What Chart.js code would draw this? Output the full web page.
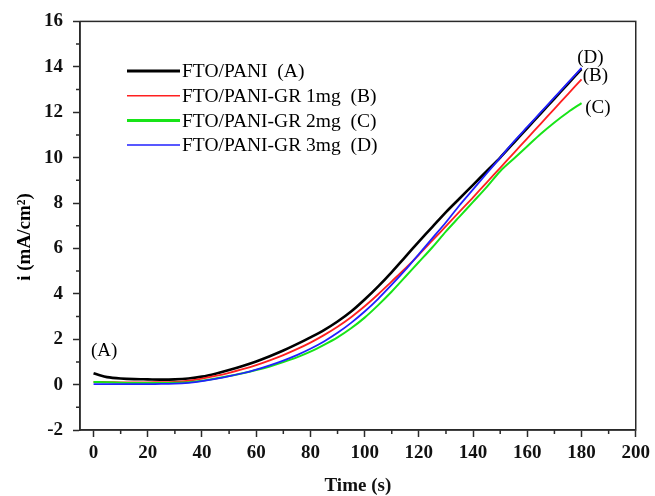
<!DOCTYPE html>
<html>
<head>
<meta charset="utf-8">
<script src="https://cdn.jsdelivr.net/npm/chart.js@4.4.1/dist/chart.umd.min.js"></script>
<style>
  html, body { margin: 0; padding: 0; background: #fff; }
  #wrap { width: 655px; height: 496px; }
</style>
</head>
<body>
<div id="wrap"><canvas id="iv"></canvas></div>
<script>
const times = [0, 2, 5, 10, 15, 20, 25, 30, 35, 40, 45, 50, 55, 60, 65, 70, 75, 80, 85, 90,
  95, 100, 105, 110, 115, 120, 125, 130, 135, 140, 145, 150, 155, 160, 165, 170, 175, 180];

const seriesA = [0.50, 0.42, 0.33, 0.27, 0.24, 0.23, 0.22, 0.23, 0.27, 0.35, 0.48, 0.64, 0.82, 1.02, 1.25, 1.50, 1.78, 2.08, 2.40, 2.78,
  3.22, 3.75, 4.33, 4.96, 5.63, 6.30, 6.95, 7.60, 8.20, 8.80, 9.40, 10.00, 10.65, 11.30, 11.95, 12.60, 13.25, 13.90];
const seriesB = [0.12, 0.12, 0.11, 0.10, 0.10, 0.10, 0.11, 0.12, 0.17, 0.26, 0.38, 0.52, 0.68, 0.86, 1.07, 1.30, 1.56, 1.85, 2.18, 2.55,
  2.97, 3.45, 3.98, 4.55, 5.12, 5.72, 6.35, 6.98, 7.62, 8.25, 8.90, 9.55, 10.20, 10.85, 11.50, 12.15, 12.80, 13.45];
const seriesC = [0.12, 0.11, 0.10, 0.08, 0.07, 0.07, 0.07, 0.08, 0.10, 0.17, 0.27, 0.38, 0.50, 0.64, 0.80, 0.99, 1.20, 1.45, 1.75, 2.08,
  2.48, 2.95, 3.50, 4.10, 4.75, 5.40, 6.05, 6.75, 7.40, 8.05, 8.70, 9.40, 9.95, 10.50, 11.05, 11.55, 12.00, 12.40];
const seriesD = [0.02, 0.02, 0.02, 0.02, 0.02, 0.02, 0.03, 0.04, 0.08, 0.15, 0.25, 0.37, 0.50, 0.66, 0.85, 1.06, 1.30, 1.58, 1.90, 2.28,
  2.72, 3.22, 3.78, 4.40, 5.05, 5.75, 6.45, 7.15, 7.90, 8.60, 9.30, 10.00, 10.70, 11.35, 12.00, 12.65, 13.30, 13.95];

const legendLabels = ["FTO/PANI  (A)", "FTO/PANI-GR 1mg  (B)", "FTO/PANI-GR 2mg  (C)", "FTO/PANI-GR 3mg  (D)"];
const colors = ["#000000", "#ff2020", "#18e418", "#2020ff"];
const widths = [2.6, 1.8, 2, 1.8];
const keyWidths = [3, 1.5, 3, 1.5];

const xTicks = [0, 20, 40, 60, 80, 100, 120, 140, 160, 180, 200];
const yTicks = [-2, 0, 2, 4, 6, 8, 10, 12, 14, 16];

// curve labels, in data units
const tagText = ["(A)", "(D)", "(B)", "(C)"];
const tagT = [3.9, 183.3, 185.1, 186.0];
const tagI = [1.5, 14.4, 13.6, 12.2];

const serif = "'Liberation Serif', 'Times New Roman', serif";
const axisColor = "#2a2a2a";

function pts(ys) {
  return times.map((t, k) => ({ x: t, y: ys[k] }));
}

const extras = {
  id: "extras",
  afterDraw(chart) {
    const ctx = chart.ctx;
    const a = chart.chartArea;
    const xs = chart.scales.x, ys = chart.scales.y;
    ctx.save();
    // frame
    ctx.strokeStyle = axisColor;
    ctx.lineWidth = 1.5;
    ctx.strokeRect(a.left, a.top, a.right - a.left, a.bottom - a.top);
    // minor ticks
    ctx.beginPath();
    for (let v = 10; v < 200; v += 20) {
      const px = xs.getPixelForValue(v);
      ctx.moveTo(px, a.bottom);
      ctx.lineTo(px, a.bottom + 4);
    }
    for (let v = -1; v < 16; v += 2) {
      const py = ys.getPixelForValue(v);
      ctx.moveTo(a.left, py);
      ctx.lineTo(a.left - 4, py);
    }
    ctx.stroke();

    // legend
    ctx.font = "19.5px " + serif;
    ctx.textBaseline = "middle";
    ctx.fillStyle = "#000";
    legendLabels.forEach((lab, k) => {
      const y = 71 + k * 24.7;
      ctx.strokeStyle = colors[k];
      ctx.lineWidth = keyWidths[k];
      ctx.beginPath();
      ctx.moveTo(127, y);
      ctx.lineTo(180, y);
      ctx.stroke();
      ctx.fillText(lab, 182, y + 1);
    });

    // curve tags
    ctx.font = "19px " + serif;
    ctx.textAlign = "center";
    tagText.forEach((s, k) => {
      ctx.fillText(s, xs.getPixelForValue(tagT[k]), ys.getPixelForValue(tagI[k]));
    });

    // y title
    ctx.translate(25, 237);
    ctx.rotate(-Math.PI / 2);
    ctx.font = "bold 19px " + serif;
    ctx.fillText("i (mA/cm\u00b2)", 0, 0);
    ctx.restore();
  }
};

new Chart(document.getElementById("iv"), {
  type: "line",
  data: {
    datasets: [seriesA, seriesB, seriesC, seriesD].map((s, k) => ({
      label: legendLabels[k],
      data: pts(s),
      borderColor: colors[k],
      borderWidth: widths[k],
      pointRadius: 0,
      tension: 0.3,
      fill: false
    })).reverse()
  },
  options: {
    responsive: true,
    maintainAspectRatio: false,
    animation: false,
    layout: { padding: { left: 0, top: 21, right: 17, bottom: 0 } },
    plugins: { legend: { display: false }, tooltip: { enabled: false } },
    scales: {
      x: {
        type: "linear",
        min: -5,
        max: 200,
        afterBuildTicks: (sc) => { sc.ticks = xTicks.map(v => ({ value: v })); },
        afterFit: (sc) => { sc.height = 66; },
        grid: { drawOnChartArea: false, drawTicks: true, tickLength: 7, tickColor: axisColor, tickWidth: 1.5 },
        border: { color: axisColor, width: 1.5 },
        ticks: { color: "#111", padding: 5, maxRotation: 0, font: { family: serif, size: 19, weight: "bold" } },
        title: { display: true, text: "Time (s)", color: "#111", padding: { top: 0, bottom: 0 }, font: { family: serif, size: 19, weight: "bold", lineHeight: 1 } }
      },
      y: {
        min: -2,
        max: 16,
        afterBuildTicks: (sc) => { sc.ticks = yTicks.map(v => ({ value: v })); },
        afterFit: (sc) => { sc.width = 80; },
        grid: { drawOnChartArea: false, drawTicks: true, tickLength: 7, tickColor: axisColor, tickWidth: 1.5 },
        border: { color: axisColor, width: 1.5 },
        ticks: { color: "#111", padding: 10, font: { family: serif, size: 19, weight: "bold" } }
      }
    }
  },
  plugins: [extras]
});
</script>
</body>
</html>
